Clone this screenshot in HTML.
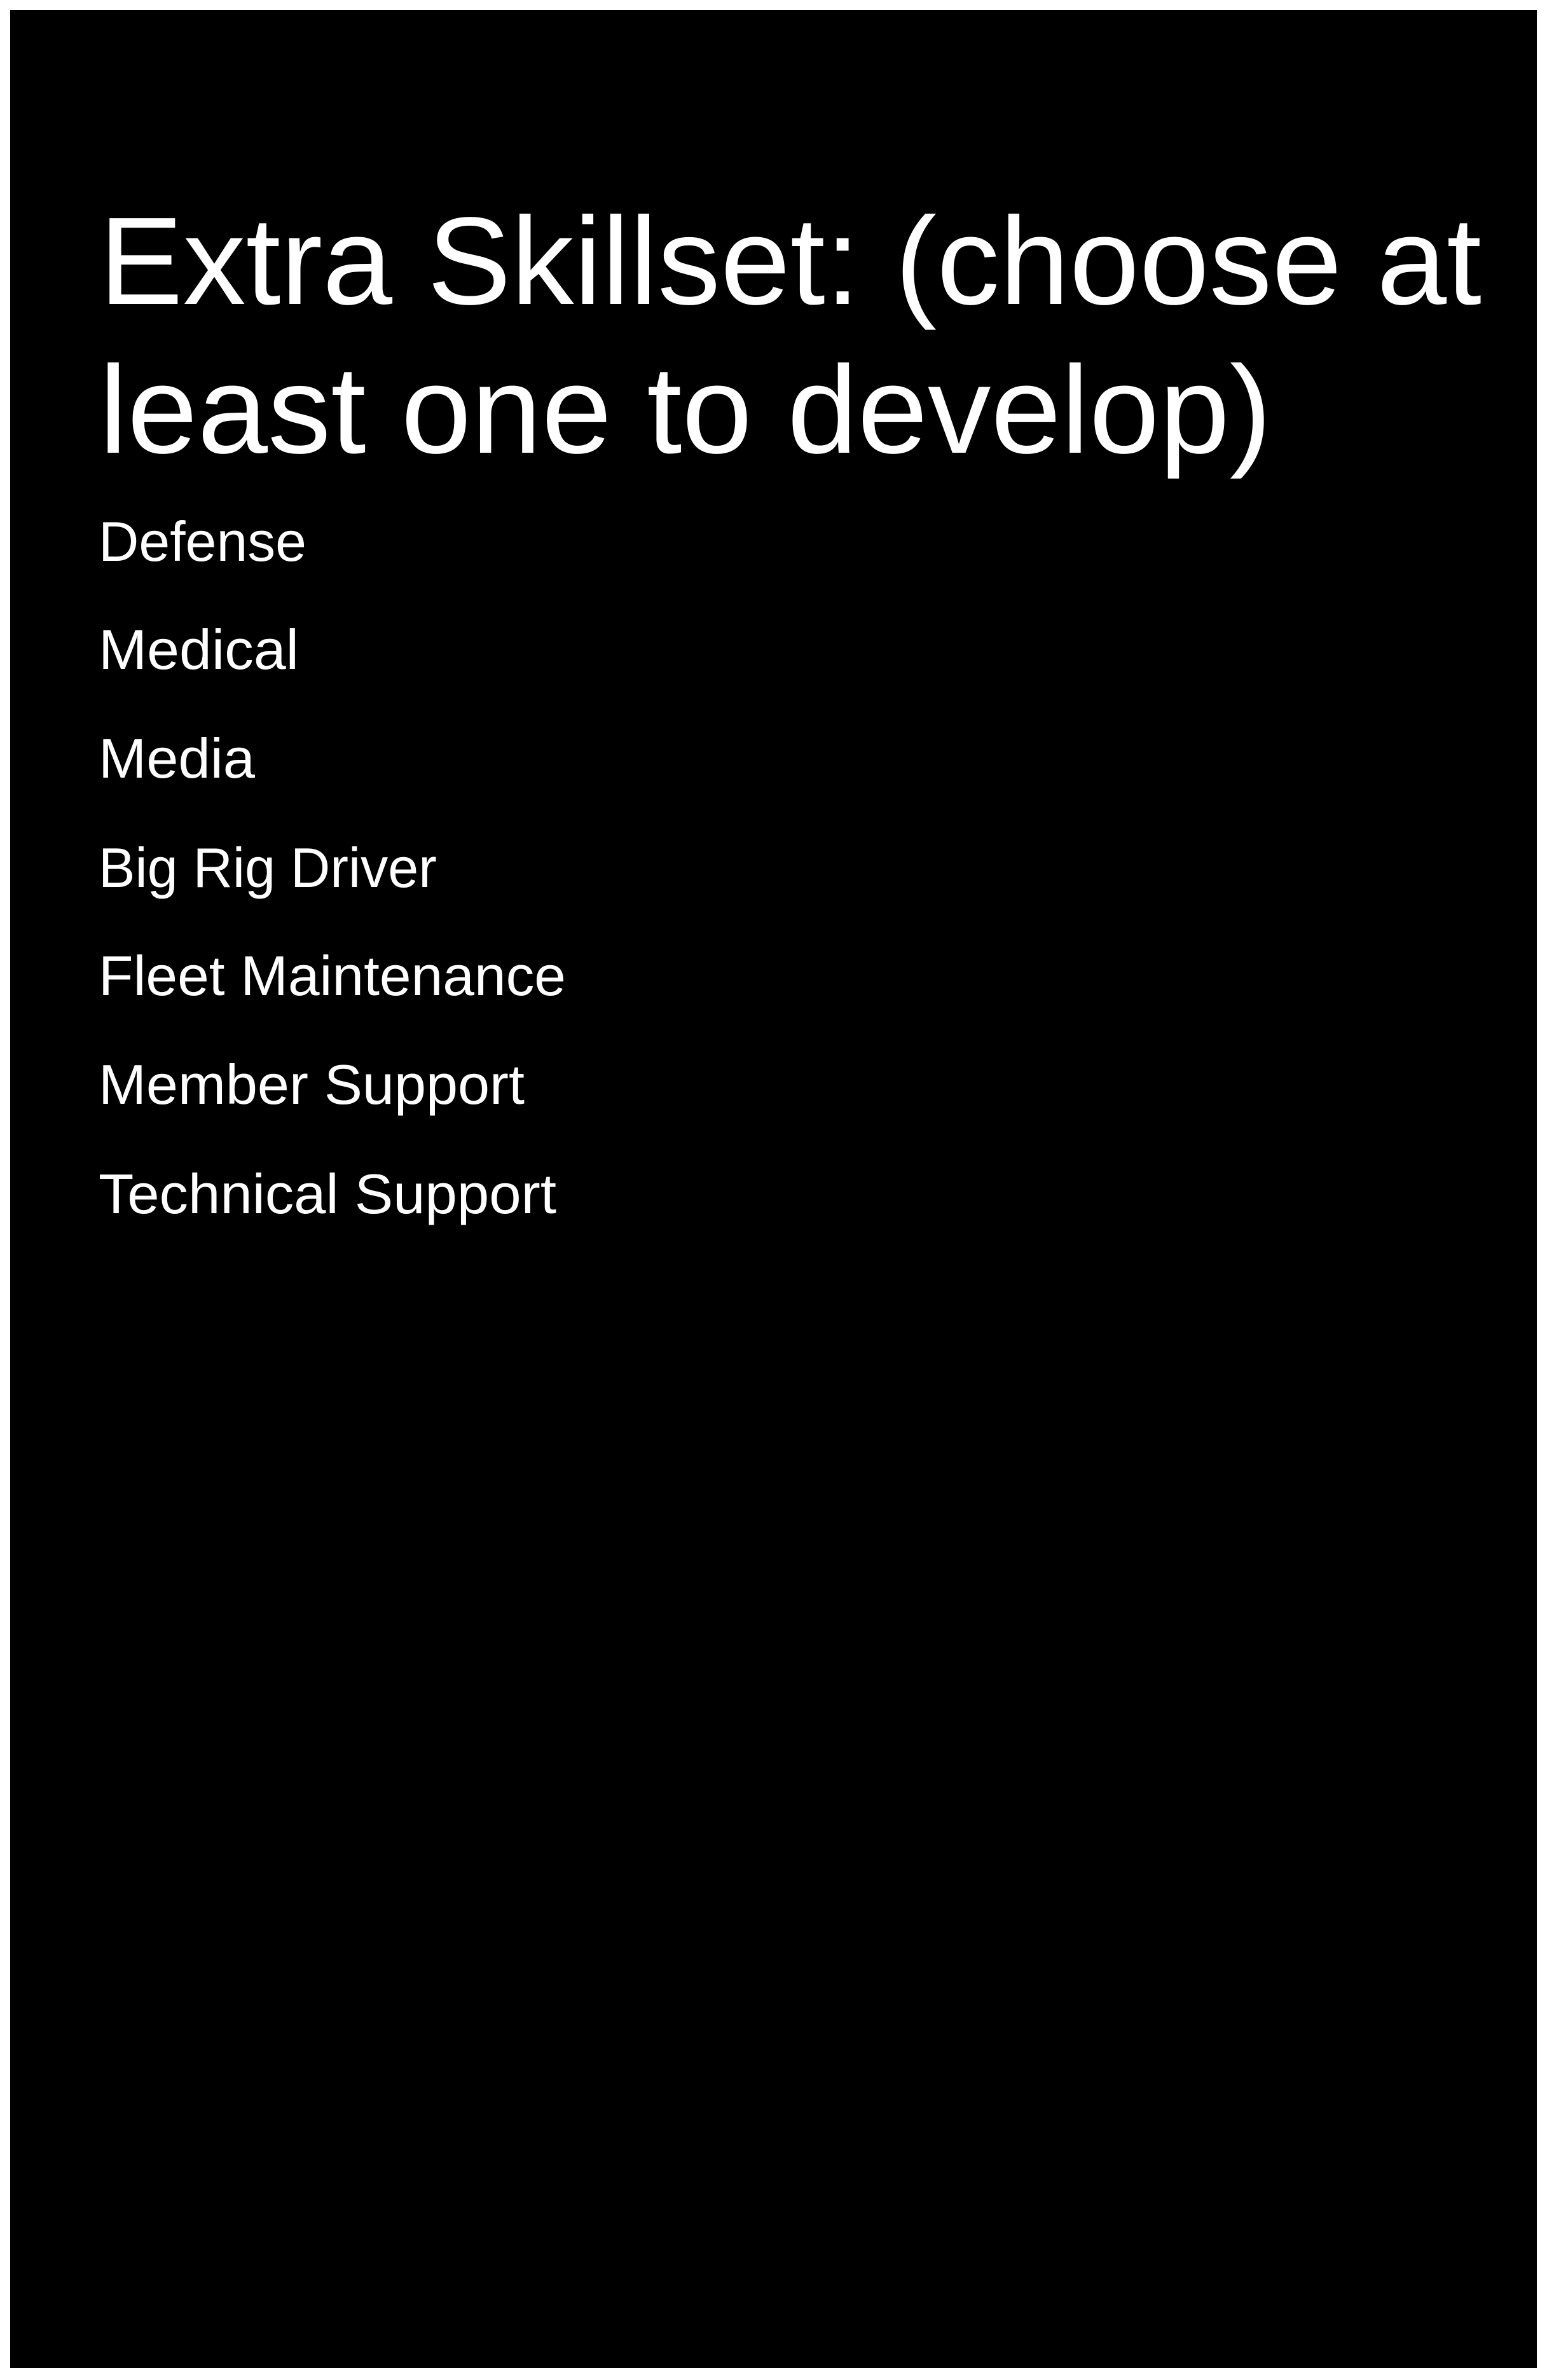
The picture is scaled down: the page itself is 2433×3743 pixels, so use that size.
<!DOCTYPE html>
<html><head><meta charset="utf-8"><style>
html,body{margin:0;padding:0;background:#fff;}
svg{display:block;}
text{font-family:"Liberation Sans",Arial,sans-serif;fill:#fff;}
</style></head><body>
<svg width="2433" height="3743" viewBox="0 0 2433 3743" xmlns="http://www.w3.org/2000/svg">
<rect x="0" y="0" width="2433" height="3743" fill="#fff"/>
<rect x="16" y="16" width="2401" height="3708" fill="#000"/>
<text x="156" y="478" font-size="196" textLength="2174" lengthAdjust="spacingAndGlyphs">Extra Skillset: (choose at</text>
<text x="156" y="712" font-size="196" textLength="1844" lengthAdjust="spacingAndGlyphs">least one to develop)</text>
<g font-size="88">
<text x="155" y="882" textLength="327" lengthAdjust="spacingAndGlyphs">Defense</text>
<text x="155" y="1052" textLength="315" lengthAdjust="spacingAndGlyphs">Medical</text>
<text x="155" y="1223" textLength="246" lengthAdjust="spacingAndGlyphs">Media</text>
<text x="155" y="1395" textLength="532" lengthAdjust="spacingAndGlyphs">Big Rig Driver</text>
<text x="155" y="1565" textLength="735" lengthAdjust="spacingAndGlyphs">Fleet Maintenance</text>
<text x="155" y="1736" textLength="670" lengthAdjust="spacingAndGlyphs">Member Support</text>
<text x="155" y="1908" textLength="720" lengthAdjust="spacingAndGlyphs">Technical Support</text>
</g>
</svg>
</body></html>
